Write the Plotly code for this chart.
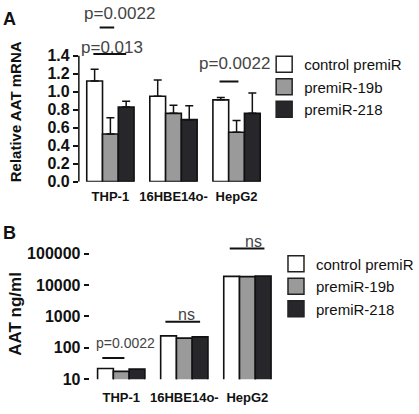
import numpy as np
import plotly.graph_objects as go

# ---------------- data ----------------
cell_lines = ["THP-1", "16HBE14o-", "HepG2"]
series_names = ["control premiR", "premiR-19b", "premiR-218"]
series_colors = ["#ffffff", "#9a9a9a", "#26262b"]

# Panel A: relative AAT mRNA (mean, upper error)
mrna_control = [1.12, 0.95, 0.91]
mrna_19b = [0.53, 0.76, 0.55]
mrna_218 = [0.83, 0.69, 0.76]
mrna_err_control = [0.13, 0.18, 0.025]
mrna_err_19b = [0.18, 0.09, 0.13]
mrna_err_218 = [0.065, 0.155, 0.225]

# Panel B: AAT ng/ml
ngml_control = [22, 241, 19000]
ngml_19b = [17.8, 204, 18600]
ngml_218 = [21, 224, 19500]

a_ticks = [0.0, 0.2, 0.4, 0.6, 0.8, 1.0, 1.2, 1.4]
a_ticktext = ["0.0", "0.2", "0.4", "0.6", "0.8", "1.0", "1.2", "1.4"]
b_ticks = [10, 100, 1000, 10000, 100000]
b_ticktext = ["10", "100", "1000", "10000", "100000"]

# significance brackets: (x_start, x_end, y_line, label, x_label, y_label)
sig_a = [
    (-0.17, 0.06, 1.716, "p=0.0022", 0.14, 1.876),
    (-0.27, 0.25, 1.42, "p=0.013", 0.02, 1.495),
    (1.73, 2.03, 1.114, "p=0.0022", 1.97, 1.313),
]
sig_b = [
    (-0.30, 0.05, 47.4, "p=0.0022", 0.07, 148),
    (0.70, 1.25, 676, "ns", 1.03, 1150),
    (1.72, 2.27, 146000, "ns", 2.09, 240000),
]

FONT = "Liberation Sans, Arial, sans-serif"
x_idx = list(range(len(cell_lines)))

fig = go.Figure()

mrna_vals = [mrna_control, mrna_19b, mrna_218]
mrna_errs = [mrna_err_control, mrna_err_19b, mrna_err_218]
ngml_vals = [ngml_control, ngml_19b, ngml_218]

for name, col, vals, err in zip(series_names, series_colors, mrna_vals, mrna_errs):
    fig.add_trace(go.Bar(
        x=x_idx, y=vals, name=name, showlegend=False,
        marker=dict(color=col, line=dict(color="#111111", width=1.6)),
        error_y=dict(type="data", symmetric=False, array=err,
                     arrayminus=[0] * len(err), color="#111111",
                     thickness=1.5, width=4),
        xaxis="x", yaxis="y"))

for name, col, vals in zip(series_names, series_colors, ngml_vals):
    fig.add_trace(go.Bar(
        x=x_idx, y=vals, name=name, showlegend=False,
        marker=dict(color=col, line=dict(color="#111111", width=1.6)),
        xaxis="x2", yaxis="y2"))

# legend entries
for leg, xa, ya in (("legend", "x", "y"), ("legend2", "x2", "y2")):
    for name, col in zip(series_names, series_colors):
        fig.add_trace(go.Scatter(
            x=[None], y=[None], mode="markers", name=name, legend=leg,
            marker=dict(symbol="square", size=16, color=col,
                        line=dict(color="#222222", width=1.5)),
            xaxis=xa, yaxis=ya))

# significance lines
for (x0, x1, yl, lab, xt, yt) in sig_a:
    fig.add_trace(go.Scatter(x=[x0, x1], y=[yl, yl], mode="lines",
                             line=dict(color="#111111", width=2),
                             showlegend=False, xaxis="x", yaxis="y",
                             hoverinfo="skip"))
    fig.add_annotation(x=xt, y=yt, xref="x", yref="y", text=lab,
                       showarrow=False, xanchor="center", yanchor="middle",
                       font=dict(family=FONT, size=17, color="#444444"))
for (x0, x1, yl, lab, xt, yt) in sig_b:
    fig.add_trace(go.Scatter(x=[x0, x1], y=[yl, yl], mode="lines",
                             line=dict(color="#111111", width=2),
                             showlegend=False, xaxis="x2", yaxis="y2",
                             hoverinfo="skip"))
    fig.add_annotation(x=xt, y=float(np.log10(yt)), xref="x2", yref="y2", text=lab,
                       showarrow=False, xanchor="center", yanchor="middle",
                       font=dict(family=FONT, size=14 if lab.startswith("p") else 16,
                                 color="#444444"))

# y-axis lines (only spanning the tick range)
fig.add_shape(type="line", xref="x domain", yref="y", x0=0, x1=0,
              y0=a_ticks[0], y1=a_ticks[-1], line=dict(color="#111111", width=1.5))
fig.add_shape(type="line", xref="x2 domain", yref="y2", x0=0, x1=0,
              y0=np.log10(b_ticks[0]), y1=np.log10(b_ticks[-1]),
              line=dict(color="#111111", width=1.5))

tickfont = dict(family=FONT, size=16, color="#111111")
xtickfont = dict(family=FONT, size=13, color="#111111")

fig.update_layout(
    width=419, height=414,
    margin=dict(l=0, r=0, t=0, b=0),
    paper_bgcolor="white", plot_bgcolor="white",
    barmode="group", bargap=0.25, bargroupgap=0,
    font=dict(family=FONT),
    xaxis=dict(domain=[80 / 419, 272 / 419], range=[-0.5, 2.5],
               tickvals=x_idx, ticktext=["<b>%s</b>" % c for c in cell_lines],
               tickfont=xtickfont, showline=False, showgrid=False,
               zeroline=False, ticks="", ticklabelstandoff=5, anchor="y"),
    yaxis=dict(domain=[1 - 185.7 / 414, 1 - 6.5 / 414], range=[0, 1.95],
               tickvals=a_ticks, ticktext=["<b>%s</b>" % t for t in a_ticktext],
               tickfont=tickfont, ticks="outside", ticklen=5, tickwidth=1.5,
               tickcolor="#111111", showline=False, showgrid=False,
               zeroline=False, anchor="x"),
    xaxis2=dict(domain=[91 / 419, 283 / 419], range=[-0.5, 2.5],
                tickvals=x_idx, ticktext=["<b>%s</b>" % c for c in cell_lines],
                tickfont=xtickfont, showline=False, showgrid=False,
                zeroline=False, ticks="", ticklabelstandoff=9, anchor="y2"),
    yaxis2=dict(domain=[1 - 387.7 / 414, 1 - 244.9 / 414], type="log",
                range=[1, 5.45], tickvals=b_ticks,
                ticktext=["<b>%s</b>" % t for t in b_ticktext],
                tickfont=tickfont, ticks="outside", ticklen=5, tickwidth=1.5,
                tickcolor="#111111", showline=False, showgrid=False,
                zeroline=False, anchor="x2"),
    legend=dict(x=268 / 419, y=1 - 49 / 414, xanchor="left", yanchor="top",
                font=dict(family=FONT, size=15, color="#111111"),
                bgcolor="rgba(0,0,0,0)", tracegroupgap=0),
    legend2=dict(x=280 / 419, y=1 - 253 / 414, xanchor="left", yanchor="top",
                 font=dict(family=FONT, size=15, color="#111111"),
                 bgcolor="rgba(0,0,0,0)", tracegroupgap=0),
    showlegend=True,
)

# panel letters and axis titles
ann_common = dict(xref="paper", yref="paper", showarrow=False,
                  xanchor="center", yanchor="middle")
fig.add_annotation(x=10 / 419, y=1 - 19 / 414, text="<b>A</b>",
                   font=dict(family=FONT, size=18, color="#111111"), **ann_common)
fig.add_annotation(x=10 / 419, y=1 - 238 / 414, text="<b>B</b>",
                   font=dict(family=FONT, size=18, color="#111111"), **ann_common)
fig.add_annotation(x=16 / 419, y=1 - 114 / 414, text="<b>Relative AAT mRNA</b>",
                   textangle=-90,
                   font=dict(family=FONT, size=15, color="#111111"), **ann_common)
fig.add_annotation(x=15 / 419, y=1 - 321 / 414, text="<b>AAT ng/ml</b>",
                   textangle=-90,
                   font=dict(family=FONT, size=17, color="#111111"), **ann_common)

fig.write_html("out.html")
